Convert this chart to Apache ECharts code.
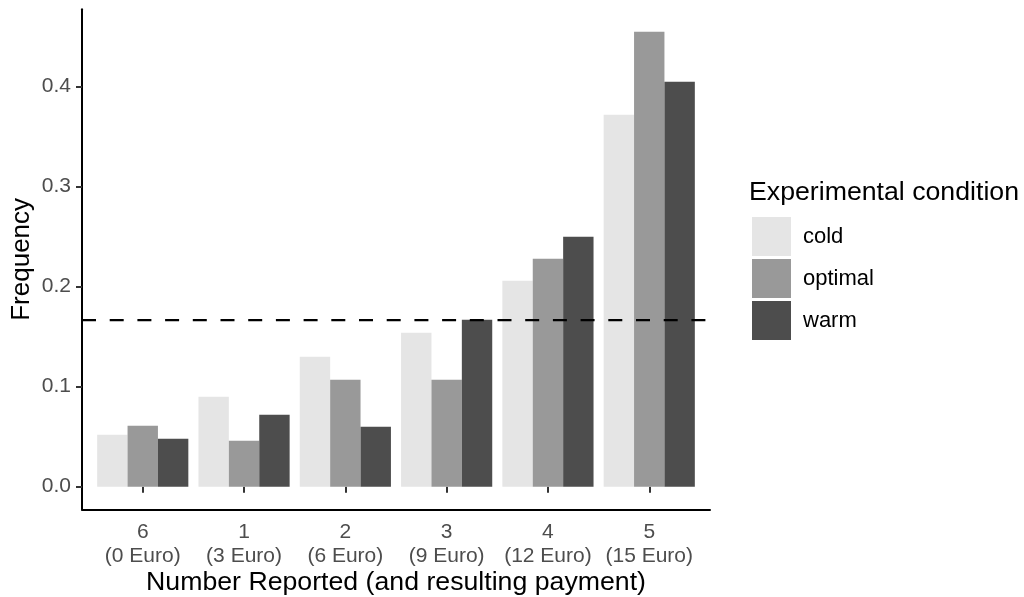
<!DOCTYPE html>
<html>
<head>
<meta charset="utf-8">
<script src="https://cdn.jsdelivr.net/npm/echarts@6/dist/echarts.min.js"></script>
<style>
  html, body { margin: 0; padding: 0; background: #fff; }
  #chart { width: 1024px; height: 597px; }
</style>
</head>
<body>
<div id="chart"></div>
<script>
// Number reported on the die and the payment it earns
const numbers = ['6', '1', '2', '3', '4', '5'];
const payments = ['(0 Euro)', '(3 Euro)', '(6 Euro)', '(9 Euro)', '(12 Euro)', '(15 Euro)'];

// Share of reports per experimental condition
const cold    = [0.052, 0.090, 0.130, 0.154, 0.206, 0.372];
const optimal = [0.061, 0.046, 0.107, 0.107, 0.228, 0.455];
const warm    = [0.048, 0.072, 0.060, 0.167, 0.250, 0.405];

// Expected frequency under honest reporting
const chance = 1 / 6;

const yTicks = [0, 0.1, 0.2, 0.3, 0.4];

const FONT = '"Liberation Sans", Arial, Helvetica, sans-serif';
const yMin = -0.0227, yMax = 0.4774;

const chart = echarts.init(document.getElementById('chart'), null, { renderer: 'canvas' });

const barSeries = (name, data, color) => ({
  name, type: 'bar', data,
  xAxisIndex: 1, yAxisIndex: 1,
  barGap: '0%', barCategoryGap: '10%',
  itemStyle: { color },
  emphasis: { disabled: true },
  animation: false
});

chart.setOption({
  backgroundColor: '#ffffff',
  animation: false,
  textStyle: { fontFamily: FONT },
  title: {
    text: 'Experimental condition',
    left: 744, top: 174,
    textStyle: { fontFamily: FONT, fontSize: 26.7, fontWeight: 'normal', color: '#000' }
  },
  legend: {
    data: ['cold', 'optimal', 'warm'],
    orient: 'vertical',
    left: 752, top: 217, padding: 0,
    itemWidth: 39, itemHeight: 39, itemGap: 3,
    icon: 'rect',
    selectedMode: false,
    textStyle: { fontFamily: FONT, fontSize: 22, color: '#000', padding: [0, 0, 0, 7] }
  },
  grid: [
    // frame carrying the axis lines and y ticks
    { left: 82, right: 314, top: 9.3, bottom: 87.6, outerBoundsMode: 'none', containLabel: false },
    // inner band where the category slots sit (ggplot-style expansion)
    { left: 92.1, right: 324.1, top: 9.3, bottom: 87.6, outerBoundsMode: 'none', containLabel: false }
  ],
  xAxis: [
    {
      type: 'value', gridIndex: 0, min: 0, max: 1,
      axisLine: { show: true, onZero: false, lineStyle: { color: '#000', width: 2 } },
      axisTick: { show: false }, axisLabel: { show: false }, splitLine: { show: false }
    },
    {
      type: 'category', gridIndex: 1, data: numbers,
      axisLine: { show: false },
      axisTick: { show: true, alignWithLabel: true, interval: 0, length: 6, lineStyle: { color: '#333', width: 2 } },
      axisLabel: {
        interval: 0, margin: 11, color: '#4d4d4d', fontSize: 21, lineHeight: 24, fontFamily: FONT,
        formatter: (v, i) => v + '\n' + payments[i]
      },
      name: 'Number Reported (and resulting payment)',
      nameLocation: 'middle', nameGap: 60, nameMoveOverlap: false,
      nameTextStyle: { fontSize: 26.7, color: '#000', fontFamily: FONT }
    }
  ],
  yAxis: [
    {
      type: 'value', gridIndex: 0, min: yMin, max: yMax,
      axisLine: { show: true, onZero: false, lineStyle: { color: '#000', width: 2 } },
      axisTick: { show: true, length: 6, customValues: yTicks, lineStyle: { color: '#333', width: 2 } },
      axisLabel: {
        color: '#4d4d4d', fontSize: 21, margin: 11, fontFamily: FONT,
        customValues: yTicks,
        formatter: v => v.toFixed(1)
      },
      splitLine: { show: false },
      name: 'Frequency', nameLocation: 'middle', nameGap: 47, nameRotate: 90, nameMoveOverlap: false,
      nameTextStyle: { fontSize: 26, color: '#000', fontFamily: FONT }
    },
    {
      type: 'value', gridIndex: 1, min: yMin, max: yMax, show: false
    }
  ],
  series: [
    barSeries('cold', cold, '#e5e5e5'),
    barSeries('optimal', optimal, '#999999'),
    barSeries('warm', warm, '#4d4d4d'),
    {
      name: 'chance', type: 'line',
      xAxisIndex: 0, yAxisIndex: 0,
      data: [[0, chance], [1, chance]],
      symbol: 'none', z: 5,
      lineStyle: { color: '#000', width: 2.2, type: [14, 13.7] },
      emphasis: { disabled: true },
      silent: true, animation: false
    }
  ]
});
</script>
</body>
</html>
